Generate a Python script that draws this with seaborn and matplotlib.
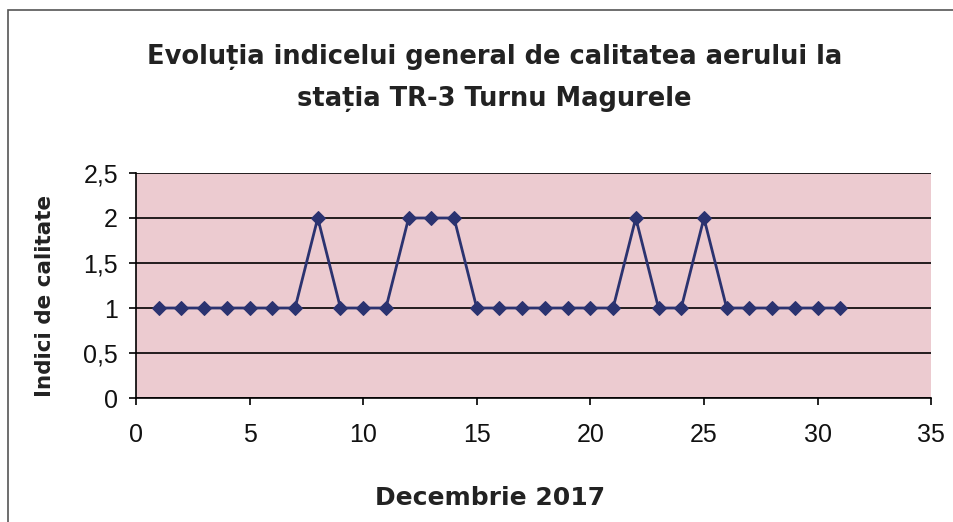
import numpy as np
import pandas as pd
import matplotlib
matplotlib.use("Agg")
import matplotlib.pyplot as plt
from matplotlib.ticker import FuncFormatter
import seaborn as sns

# date: zilele lunii decembrie 2017 si indicele general
zile = list(range(1, 32))
indici = [1, 1, 1, 1, 1, 1, 1, 2, 1, 1, 1, 2, 2, 2, 1, 1,
          1, 1, 1, 1, 1, 2, 1, 1, 2, 1, 1, 1, 1, 1, 1]
y_ticks = [0, 0.5, 1, 1.5, 2, 2.5]
x_ticks = [0, 5, 10, 15, 20, 25, 30, 35]

df = pd.DataFrame({"zi": zile, "indice": indici})

sns.set_theme(style="ticks")
plt.rcParams["font.family"] = ["Liberation Sans", "DejaVu Sans"]

fig = plt.figure(figsize=(9.54, 5.22), dpi=100)
ax = fig.add_axes([0.1426, 0.2375, 0.8334, 0.4311])
ax.set_facecolor("#eccbd0")

sns.lineplot(data=df, x="zi", y="indice", ax=ax, color="#2b3370",
             marker="D", markersize=7, markeredgecolor="#2b3370", linewidth=2)

ax.set_xlim(0, 35)
ax.set_ylim(0, 2.5)
ax.set_xticks(x_ticks)
ax.set_yticks(y_ticks)
ax.yaxis.set_major_formatter(FuncFormatter(lambda v, p: f"{v:g}".replace(".", ",")))
ax.grid(axis="y", color="black", linewidth=1.2)
ax.set_axisbelow(True)

for s in ["top", "right"]:
    ax.spines[s].set_visible(False)
for s in ["left", "bottom"]:
    ax.spines[s].set_color("black")
    ax.spines[s].set_linewidth(1.2)

ax.tick_params(axis="both", direction="out", length=5, width=1.2, color="black",
               labelsize=18, labelcolor="#111111")
ax.tick_params(axis="x", pad=13)
ax.tick_params(axis="y", pad=8)

bold = ["DejaVu Sans"]
ax.set_xlabel("Decembrie 2017", fontsize=18, fontweight="bold", family=bold,
              color="#222222")
ax.xaxis.set_label_coords(0.445, -0.444)
ax.xaxis.label.set_va("center")
ax.set_ylabel("Indici de calitate", fontsize=15.5, fontweight="bold", family=bold,
              color="#222222")
ax.yaxis.set_label_coords(-0.1145, 0.455)
ax.yaxis.label.set_va("center")

fig.suptitle("Evoluția indicelui general de calitatea aerului la\nstația TR-3 Turnu Magurele",
             x=0.518, y=0.915, fontsize=18.5, fontweight="bold", family=bold,
             color="#222222", linespacing=1.8)

fig.patches.append(plt.Rectangle((0.008, -0.01), 1.0, 0.99, transform=fig.transFigure,
                                 fill=False, edgecolor="#555555", linewidth=1.2))

fig.savefig("out.png", dpi=100)
